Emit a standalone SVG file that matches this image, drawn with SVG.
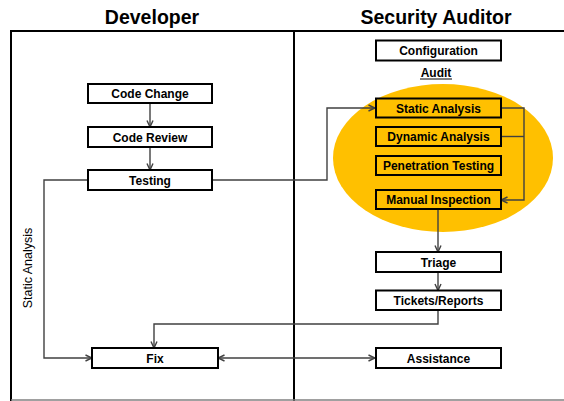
<svg xmlns="http://www.w3.org/2000/svg" width="564" height="401" viewBox="0 0 564 401">
  <defs>
    <style>
      .title { font-family: "Liberation Sans", Arial, sans-serif; font-weight: bold; font-size: 19.5px; fill: #000; text-anchor: middle; }
      .lbl { font-family: "Liberation Sans", Arial, sans-serif; font-weight: bold; font-size: 12px; fill: #000; text-anchor: middle; }
      .side { font-family: "Liberation Sans", Arial, sans-serif; font-size: 12.5px; fill: #000; text-anchor: middle; }
      .box { fill: #fff; stroke: #000; stroke-width: 2; }
      .obox { fill: #FFC000; stroke: #000; stroke-width: 2; }
      .conn { fill: none; stroke: #404040; stroke-width: 1.4; }
    </style>
    <marker id="arr" viewBox="0 0 8 8" refX="7.5" refY="4" markerWidth="8" markerHeight="8" markerUnits="userSpaceOnUse" orient="auto-start-reverse">
      <path d="M1,1 L7.5,4 L1,7" fill="none" stroke="#404040" stroke-width="1.4"/>
    </marker>
  </defs>

  <rect width="564" height="401" fill="#fff"/>

  <!-- swimlane frame -->
  <g id="frame">
    <line x1="11" y1="31" x2="564" y2="31" stroke="#000" stroke-width="2"/>
    <line x1="11" y1="30" x2="11" y2="401" stroke="#000" stroke-width="2"/>
    <line x1="294" y1="30" x2="294" y2="401" stroke="#000" stroke-width="2"/>
    <line x1="11" y1="400" x2="564" y2="400" stroke="#808080" stroke-width="1.5"/>
    <text class="title" x="152" y="24">Developer</text>
    <text class="title" x="436" y="24">Security Auditor</text>
  </g>

  <!-- audit cluster -->
  <g id="audit">
    <ellipse cx="443" cy="158" rx="110" ry="74" fill="#FFC000"/>
    <text class="lbl" x="436" y="77">Audit</text>
    <line x1="420" y1="79" x2="452" y2="79" stroke="#000" stroke-width="1"/>
  </g>

  <g id="connectors">
    <line class="conn" x1="150" y1="103" x2="150" y2="127" marker-end="url(#arr)"/>
    <line class="conn" x1="150" y1="147" x2="150" y2="170" marker-end="url(#arr)"/>
    <polyline class="conn" points="88,180 44,180 44,358 92,358" marker-end="url(#arr)"/>
    <polyline class="conn" points="212,180 327,180 327,108 375,108" marker-end="url(#arr)"/>
    <polyline class="conn" points="501,108 524,108 524,200 501,200" marker-end="url(#arr)"/>
    <line class="conn" x1="501" y1="136.5" x2="524" y2="136.5"/>
    <line class="conn" x1="438" y1="209" x2="438" y2="252" marker-end="url(#arr)"/>
    <line class="conn" x1="438" y1="272" x2="438" y2="290.5" marker-end="url(#arr)"/>
    <polyline class="conn" points="438,310 438,324 154,324 154,348" marker-end="url(#arr)"/>
    <line class="conn" x1="218" y1="358" x2="375" y2="358" marker-start="url(#arr)" marker-end="url(#arr)"/>
  </g>

  <g id="code-change">
    <rect class="box" x="88" y="84" width="124" height="19"/>
    <text class="lbl" x="150" y="98">Code Change</text>
  </g>
  <g id="code-review">
    <rect class="box" x="88" y="127" width="124" height="20"/>
    <text class="lbl" x="150" y="141.5">Code Review</text>
  </g>
  <g id="testing">
    <rect class="box" x="88" y="170" width="124" height="20"/>
    <text class="lbl" x="150" y="184.5">Testing</text>
  </g>
  <g id="fix">
    <rect class="box" x="92" y="348" width="126" height="20"/>
    <text class="lbl" x="155" y="362.5">Fix</text>
  </g>
  <g id="static-analysis-label">
    <text class="side" transform="translate(32,268) rotate(-90)">Static Analysis</text>
  </g>

  <g id="configuration">
    <rect class="box" x="376" y="40.5" width="125" height="20"/>
    <text class="lbl" x="438.5" y="55">Configuration</text>
  </g>
  <g id="static-analysis">
    <rect class="obox" x="376" y="98.5" width="125" height="19"/>
    <text class="lbl" x="438.5" y="112.5">Static Analysis</text>
  </g>
  <g id="dynamic-analysis">
    <rect class="obox" x="376" y="127" width="125" height="19"/>
    <text class="lbl" x="438.5" y="141">Dynamic Analysis</text>
  </g>
  <g id="penetration-testing">
    <rect class="obox" x="376" y="156" width="125" height="19"/>
    <text class="lbl" x="438.5" y="170">Penetration Testing</text>
  </g>
  <g id="manual-inspection">
    <rect class="obox" x="376" y="190" width="125" height="19"/>
    <text class="lbl" x="438.5" y="204">Manual Inspection</text>
  </g>
  <g id="triage">
    <rect class="box" x="376" y="252" width="125" height="20"/>
    <text class="lbl" x="438.5" y="266.5">Triage</text>
  </g>
  <g id="tickets-reports">
    <rect class="box" x="376" y="290.5" width="125" height="19.5"/>
    <text class="lbl" x="438.5" y="304.5">Tickets/Reports</text>
  </g>
  <g id="assistance">
    <rect class="box" x="376" y="348" width="125" height="20"/>
    <text class="lbl" x="438.5" y="362.5">Assistance</text>
  </g>
</svg>
